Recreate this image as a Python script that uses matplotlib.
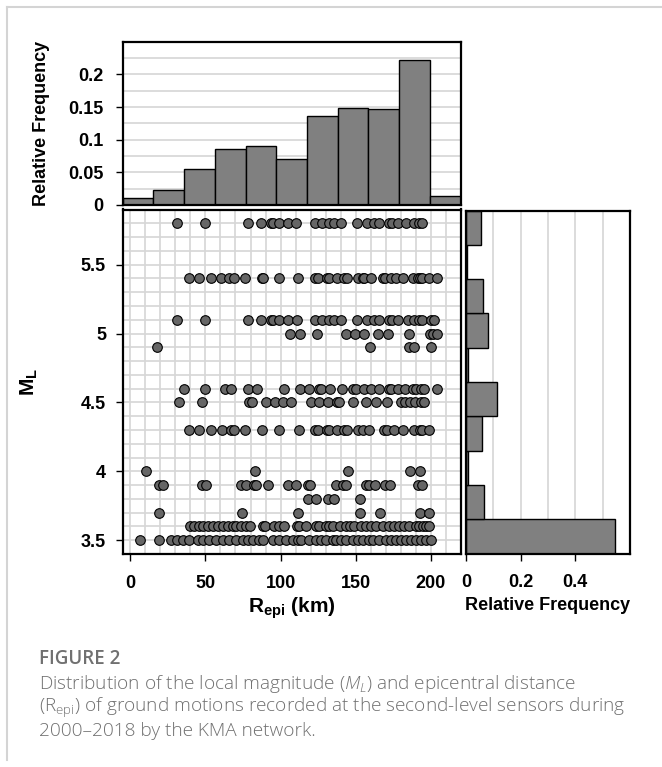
import numpy as np
import matplotlib
matplotlib.use("Agg")
from matplotlib import pyplot as plt
from matplotlib.ticker import MultipleLocator, FixedLocator, FuncFormatter
from matplotlib.lines import Line2D

plt.rcParams['font.family'] = 'Liberation Sans'
plt.rcParams['font.weight'] = 'bold'
plt.rcParams['mathtext.fontset'] = 'custom'
plt.rcParams['mathtext.bf'] = 'Liberation Sans:bold'
plt.rcParams['mathtext.rm'] = 'Open Sans:light'
plt.rcParams['mathtext.it'] = 'Open Sans:italic:light'

# epicentral distance (km) of records, one list per magnitude level
rows = {
    5.8: [31.2, 49.8, 78.6, 86.8, 93.9, 95.2, 99.2, 105, 110.3, 122.9, 127.6, 132.5, 135.8,
          140.2, 150.6, 157.3, 162.4, 165.7, 172.3, 174.1, 177.9, 183.4, 188.9, 192.2, 194],
    5.4: [39, 45.6, 53.8, 60.5, 65.6, 68.7, 76.4, 87.7, 88.6, 99.2, 111.8, 123.1, 124.7, 130.9,
          132, 137.3, 142.4, 143.9, 151.3, 154.6, 155.7, 160.1, 167.9, 169.4, 173.4, 176.7,
          181.1, 188.2, 191.1, 192.7, 194, 198.9, 204],
    5.1: [31.2, 49.8, 78.6, 86.8, 93.9, 95.2, 99.2, 105, 110.7, 122.9, 127.6, 132, 135.8, 140.2,
          150.6, 157.3, 162.4, 165.7, 172.3, 174.1, 177.9, 184.5, 188.9, 191.8, 194, 200, 202.2],
    5.0: [106.5, 112.7, 124.2, 143.5, 149.7, 155.7, 164.6, 171.5, 185.6, 199.3, 201.1, 203.8],
    4.9: [17.9, 159.7, 185.6, 188.9, 200],
    4.6: [36.1, 50, 63.3, 67.1, 78.2, 84.2, 102.1, 113.2, 119.1, 125.3, 126.9, 132.9, 140.9,
          147.9, 150.2, 155.7, 160.1, 165.7, 171.8, 173.4, 177.9, 183, 187.8, 190, 193.4,
          195.6, 204],
    4.5: [32.3, 47.8, 79.3, 80.9, 90.4, 96.6, 101.4, 107, 120.3, 125.3, 131.3, 137.3, 138.6,
          148.4, 156.8, 163.5, 170.6, 180.1, 183, 186.1, 189.6, 193.4, 195.6],
    4.3: [39, 45.6, 53.8, 61.2, 67.1, 69.3, 76.6, 87.7, 99.2, 112, 123.1, 124.7, 130.9, 132,
          137.3, 142.4, 143.9, 151.3, 154.6, 158.6, 169, 170.6, 175.6, 181.6, 188.9, 192.7,
          194, 198.9],
    4.0: [10.6, 83.1, 144.6, 186.1, 192.9],
    3.9: [19, 22.1, 47.8, 50.5, 73.8, 77.1, 82, 83.7, 91.5, 105.2, 110.3, 118.1, 119.6, 136.9,
          141.3, 143.5, 156.8, 159, 163, 169.6, 172.8, 191.1, 194],
    3.8: [118.1, 123.6, 131.3, 135.8, 152.8],
    3.7: [19, 74.2, 111.8, 152.8, 166.3, 192.7, 198.9],
    3.6: [39.9, 42.7, 45.6, 48.7, 51.6, 54.9, 58.2, 61.6, 64.9, 68.2, 70.4, 73.8, 77.1, 79.7,
          88.2, 89.9, 95.9, 99.2, 102.5, 110.7, 112.5, 116.9, 123.6, 125.8, 130.2, 132.4,
          134.7, 139.5, 143.5, 146.2, 149.1, 153.5, 156.8, 160.1, 163.5, 167.9, 172.3, 175.6,
          179, 182.3, 185.6, 190, 192.2, 194.5, 196.7, 198.9],
    3.5: [6.6, 19, 27.2, 31, 35, 39, 45, 48.7, 52.7, 57.1, 61.6, 66, 70.4, 74.9, 78.2, 81.5,
          85.9, 88.2, 94.8, 99.2, 103.7, 108.1, 111.4, 113.6, 119.2, 123.6, 126.9, 130.2,
          134.7, 136.9, 140.2, 143.5, 147.9, 151.3, 154.6, 158.6, 161.2, 165.7, 170.1, 173.4,
          176.7, 180.1, 183.4, 186.7, 190, 193.4, 196.7, 200],
}

# relative frequency histograms
r_freq = [0.010, 0.023, 0.0556, 0.085, 0.091, 0.070, 0.137, 0.149, 0.147, 0.222, 0.0138]
m_freq = [0.546, 0.065, 0.007, 0.060, 0.112, 0.008, 0.080, 0.062, 0.002, 0.0537]

r_edges = np.linspace(-5, 220, len(r_freq) + 1)
m_edges = np.linspace(3.4, 5.9, len(m_freq) + 1)

W, H = 662, 767
fig = plt.figure(figsize=(W / 100, H / 100), dpi=100)

def rect(l, t, r, b):
    return [l / W, 1 - b / H, (r - l) / W, (b - t) / H]

ax_top = fig.add_axes(rect(122.7, 41.7, 460.5, 205))
ax_sc = fig.add_axes(rect(122.7, 209.5, 461, 554))
ax_r = fig.add_axes(rect(466, 210.5, 630, 553.5))

gridc = '#d6d6d6'
barc = '#808080'

for ax in (ax_top, ax_sc, ax_r):
    for s in ax.spines.values():
        s.set_linewidth(1.6)
    ax.set_axisbelow(True)
    ax.tick_params(which='major', direction='out', length=5, width=1.0, labelsize=13)
    ax.tick_params(which='minor', length=0)

fmt = FuncFormatter(lambda v, p: ('%g' % round(v, 3)))

# top: distance histogram
ax_top.bar(r_edges[:-1], r_freq, width=np.diff(r_edges), align='edge',
           color=barc, edgecolor='black', linewidth=1.0)
ax_top.set_xlim(-5, 220)
ax_top.set_ylim(0, 0.25)
ax_top.yaxis.set_major_locator(FixedLocator([0, 0.05, 0.1, 0.15, 0.2]))
ax_top.yaxis.set_minor_locator(MultipleLocator(0.025))
ax_top.yaxis.set_major_formatter(fmt)
ax_top.set_xticks([])
ax_top.grid(axis='y', which='both', color=gridc, linewidth=1.2)
ax_top.tick_params(axis='y', pad=9)
ax_top.set_ylabel('Relative Frequency', fontsize=13, fontweight='bold')
ax_top.yaxis.set_label_coords(-0.215, 0.5)

# middle: magnitude vs distance
for m, dists in rows.items():
    ax_sc.scatter(dists, [m] * len(dists), s=48, color='#666666',
                  edgecolors='black', linewidths=0.8, zorder=3)
ax_sc.set_xlim(-5, 220)
ax_sc.set_ylim(3.4, 5.9)
ax_sc.xaxis.set_major_locator(FixedLocator([0, 50, 100, 150, 200]))
ax_sc.xaxis.set_minor_locator(MultipleLocator(10))
ax_sc.yaxis.set_major_locator(FixedLocator([3.5, 4, 4.5, 5, 5.5]))
ax_sc.yaxis.set_minor_locator(MultipleLocator(0.1))
ax_sc.yaxis.set_major_formatter(fmt)
ax_sc.grid(which='both', color=gridc, linewidth=1.2)
ax_sc.tick_params(axis='x', pad=10)
ax_sc.tick_params(axis='y', pad=7)
ax_sc.set_xlabel(r'$\mathbf{R_{epi}}$ (km)', fontsize=15, fontweight='bold')
ax_sc.xaxis.set_label_coords(0.5, -0.157)
ax_sc.xaxis.label.set_va('center')
ax_sc.set_ylabel(r'$\mathbf{M_L}$', fontsize=15, fontweight='bold')
ax_sc.yaxis.set_label_coords(-0.245, 0.5)

# right: magnitude histogram
ax_r.barh(m_edges[:-1], m_freq, height=np.diff(m_edges), align='edge',
          color=barc, edgecolor='black', linewidth=1.0)
ax_r.set_ylim(3.4, 5.9)
ax_r.set_xlim(0, 0.6)
ax_r.xaxis.set_major_locator(FixedLocator([0, 0.2, 0.4]))
ax_r.xaxis.set_minor_locator(MultipleLocator(0.1))
ax_r.xaxis.set_major_formatter(fmt)
ax_r.set_yticks([])
ax_r.grid(axis='x', which='both', color=gridc, linewidth=1.2)
ax_r.tick_params(axis='x', pad=10)
ax_r.set_xlabel('Relative Frequency', fontsize=13, fontweight='bold')
ax_r.xaxis.set_label_coords(0.5, -0.151)
ax_r.xaxis.label.set_va('center')

# page frame lines
fig.add_artist(Line2D([6.5 / W, 1], [1 - 7 / H, 1 - 7 / H], color='#d4d4d4', linewidth=1.5))
fig.add_artist(Line2D([6.5 / W, 6.5 / W], [1 - 7 / H, 1 - 760 / H], color='#d4d4d4', linewidth=1.5))

# caption
capc = '#707070'
fig.text(39 / W, 1 - 659 / H, 'FIGURE 2', family='Open Sans', fontweight='semibold',
         fontsize=13.5, color=capc, va='center')
cap_lines = [
    r'Distribution of the local magnitude ($M_L$) and epicentral distance',
    r'(R$_{\mathrm{epi}}$) of ground motions recorded at the second-level sensors during',
    '2000\u20132018 by the KMA network.',
]
for i, line in enumerate(cap_lines):
    fig.text(39 / W, 1 - (684 + 23.5 * i) / H, line, family='Open Sans', fontweight='light',
             fontsize=13.7, color=capc, va='center')

fig.savefig('out.png', dpi=100)
